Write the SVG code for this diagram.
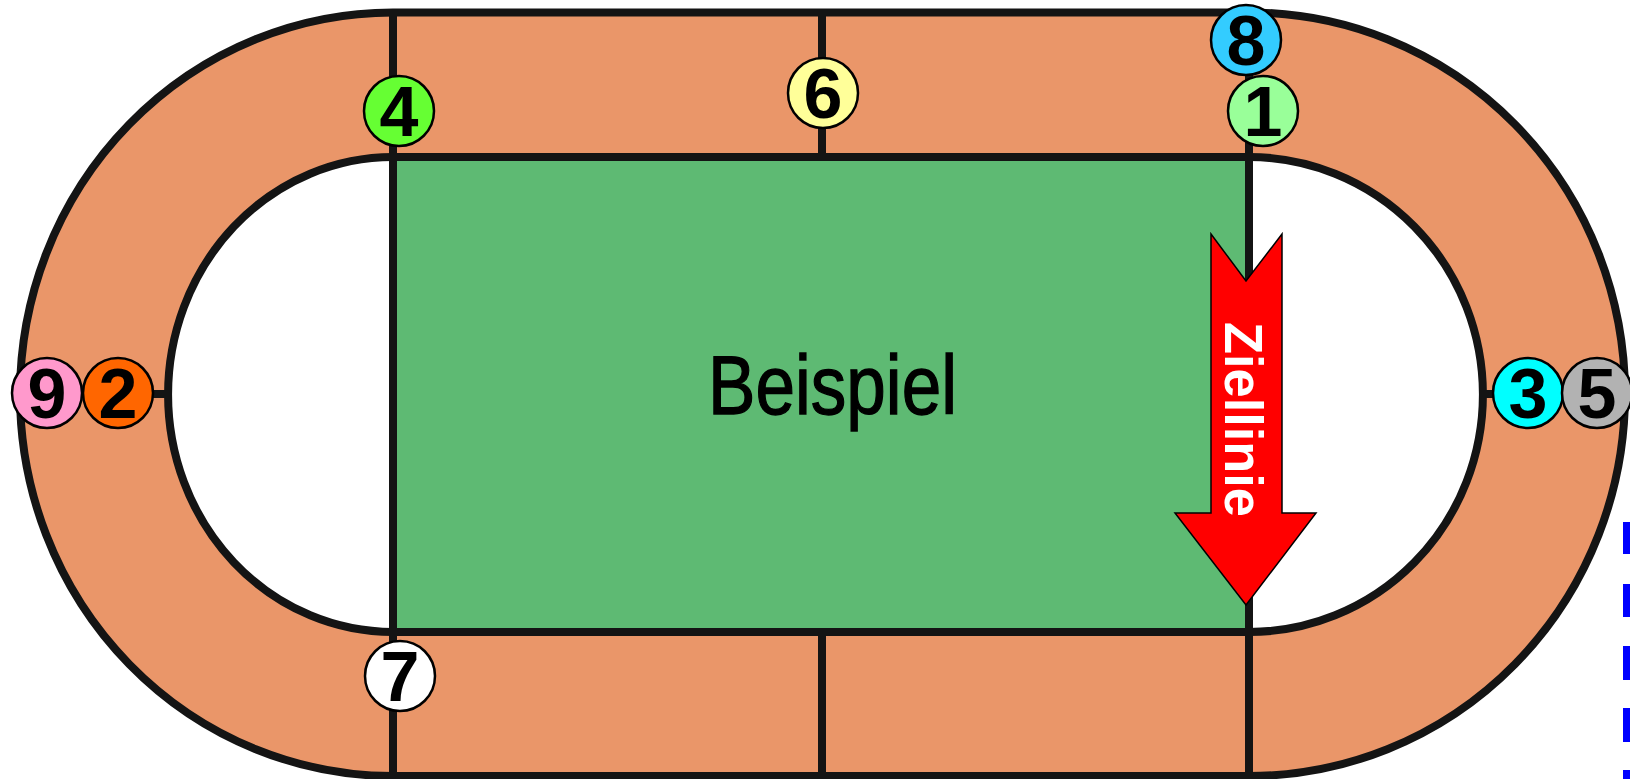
<svg xmlns="http://www.w3.org/2000/svg" width="1630" height="779" viewBox="0 0 1630 779">
<style>
.ln{stroke:#141414;stroke-width:8;fill:none}
.badge circle{stroke:#000;stroke-width:2.5}
.badge text{font-family:"Liberation Sans",Arial,sans-serif;font-weight:bold;font-size:70px;text-anchor:middle;fill:#000}
</style>
<rect width="1630" height="779" fill="#fff"/>
<g id="track">
<path d="M393,12.5 H1249 A376,381.75 0 0 1 1249,776 H393 A373,381.75 0 0 1 393,12.5 Z M393,157 H1249 A234,237.5 0 0 1 1249,632 H393 A225,237.5 0 0 1 393,157 Z" fill="#EA9669" fill-rule="evenodd"/>
<rect id="field" x="393" y="157" width="856" height="475" fill="#5EBA73"/>
</g>
<g id="connectors">
<path class="ln" d="M393,12.5 H1249 A376,381.75 0 0 1 1249,776 H393 A373,381.75 0 0 1 393,12.5 Z"/>
<path class="ln" d="M393,157 H1249 A234,237.5 0 0 1 1249,632 H393 A225,237.5 0 0 1 393,157 Z"/>
<line class="ln" x1="393" y1="12.5" x2="393" y2="776"/>
<line class="ln" x1="1249" y1="12.5" x2="1249" y2="776"/>
<line class="ln" x1="822" y1="12.5" x2="822" y2="157"/>
<line class="ln" x1="822" y1="632" x2="822" y2="776"/>
<line class="ln" x1="20" y1="394" x2="168" y2="394"/>
<line class="ln" x1="1483" y1="394" x2="1625" y2="394"/>
</g>
<g id="label-beispiel">
<text x="832.5" y="414" font-family="'Liberation Sans Narrow','Liberation Sans',Arial,sans-serif" font-size="83" text-anchor="middle" textLength="249" lengthAdjust="spacingAndGlyphs" fill="#000" stroke="#000" stroke-width="1.3">Beispiel</text>
</g>
<g id="ziellinie">
<polygon points="1211,234 1246,281 1282,234 1282,513 1316,513 1246,605 1175,513 1211,513" fill="#FF0000" stroke="#000" stroke-width="1.5"/>
<text transform="translate(1225,419.5) rotate(90)" x="0" y="0" font-family="'Liberation Sans',Arial,sans-serif" font-weight="bold" font-size="54" text-anchor="middle" textLength="195" lengthAdjust="spacingAndGlyphs" fill="#fff">Ziellinie</text>
</g>
<g id="n4" class="badge"><circle cx="399" cy="111" r="35" fill="#66FF33"/><text x="399" y="136">4</text></g>
<g id="n6" class="badge"><circle cx="823" cy="93" r="35" fill="#FFFF99"/><text x="823" y="118">6</text></g>
<g id="n8" class="badge"><circle cx="1246" cy="40" r="35" fill="#33CCFF"/><text x="1246" y="65">8</text></g>
<g id="n1" class="badge"><circle cx="1263" cy="111" r="35" fill="#99FF99"/><text x="1263" y="136">1</text></g>
<g id="n9" class="badge"><circle cx="47" cy="393" r="35" fill="#FF99CC"/><text x="47" y="418">9</text></g>
<g id="n2" class="badge"><circle cx="118" cy="393" r="35" fill="#FF6600"/><text x="118" y="418">2</text></g>
<g id="n3" class="badge"><circle cx="1528" cy="393" r="35" fill="#00FFFF"/><text x="1528" y="418">3</text></g>
<g id="n5" class="badge"><circle cx="1597" cy="393" r="35" fill="#B2B2B2"/><text x="1597" y="418">5</text></g>
<g id="n7" class="badge"><circle cx="400" cy="676" r="35" fill="#FFFFFF"/><text x="400" y="701">7</text></g>
<g id="edge-marks" fill="#0000FF">
<rect x="1623" y="522" width="10" height="32"/>
<rect x="1623" y="584" width="10" height="33"/>
<rect x="1623" y="646" width="10" height="34"/>
<rect x="1623" y="708" width="10" height="34"/>
<rect x="1623" y="770" width="10" height="12"/>
</g>
</svg>
